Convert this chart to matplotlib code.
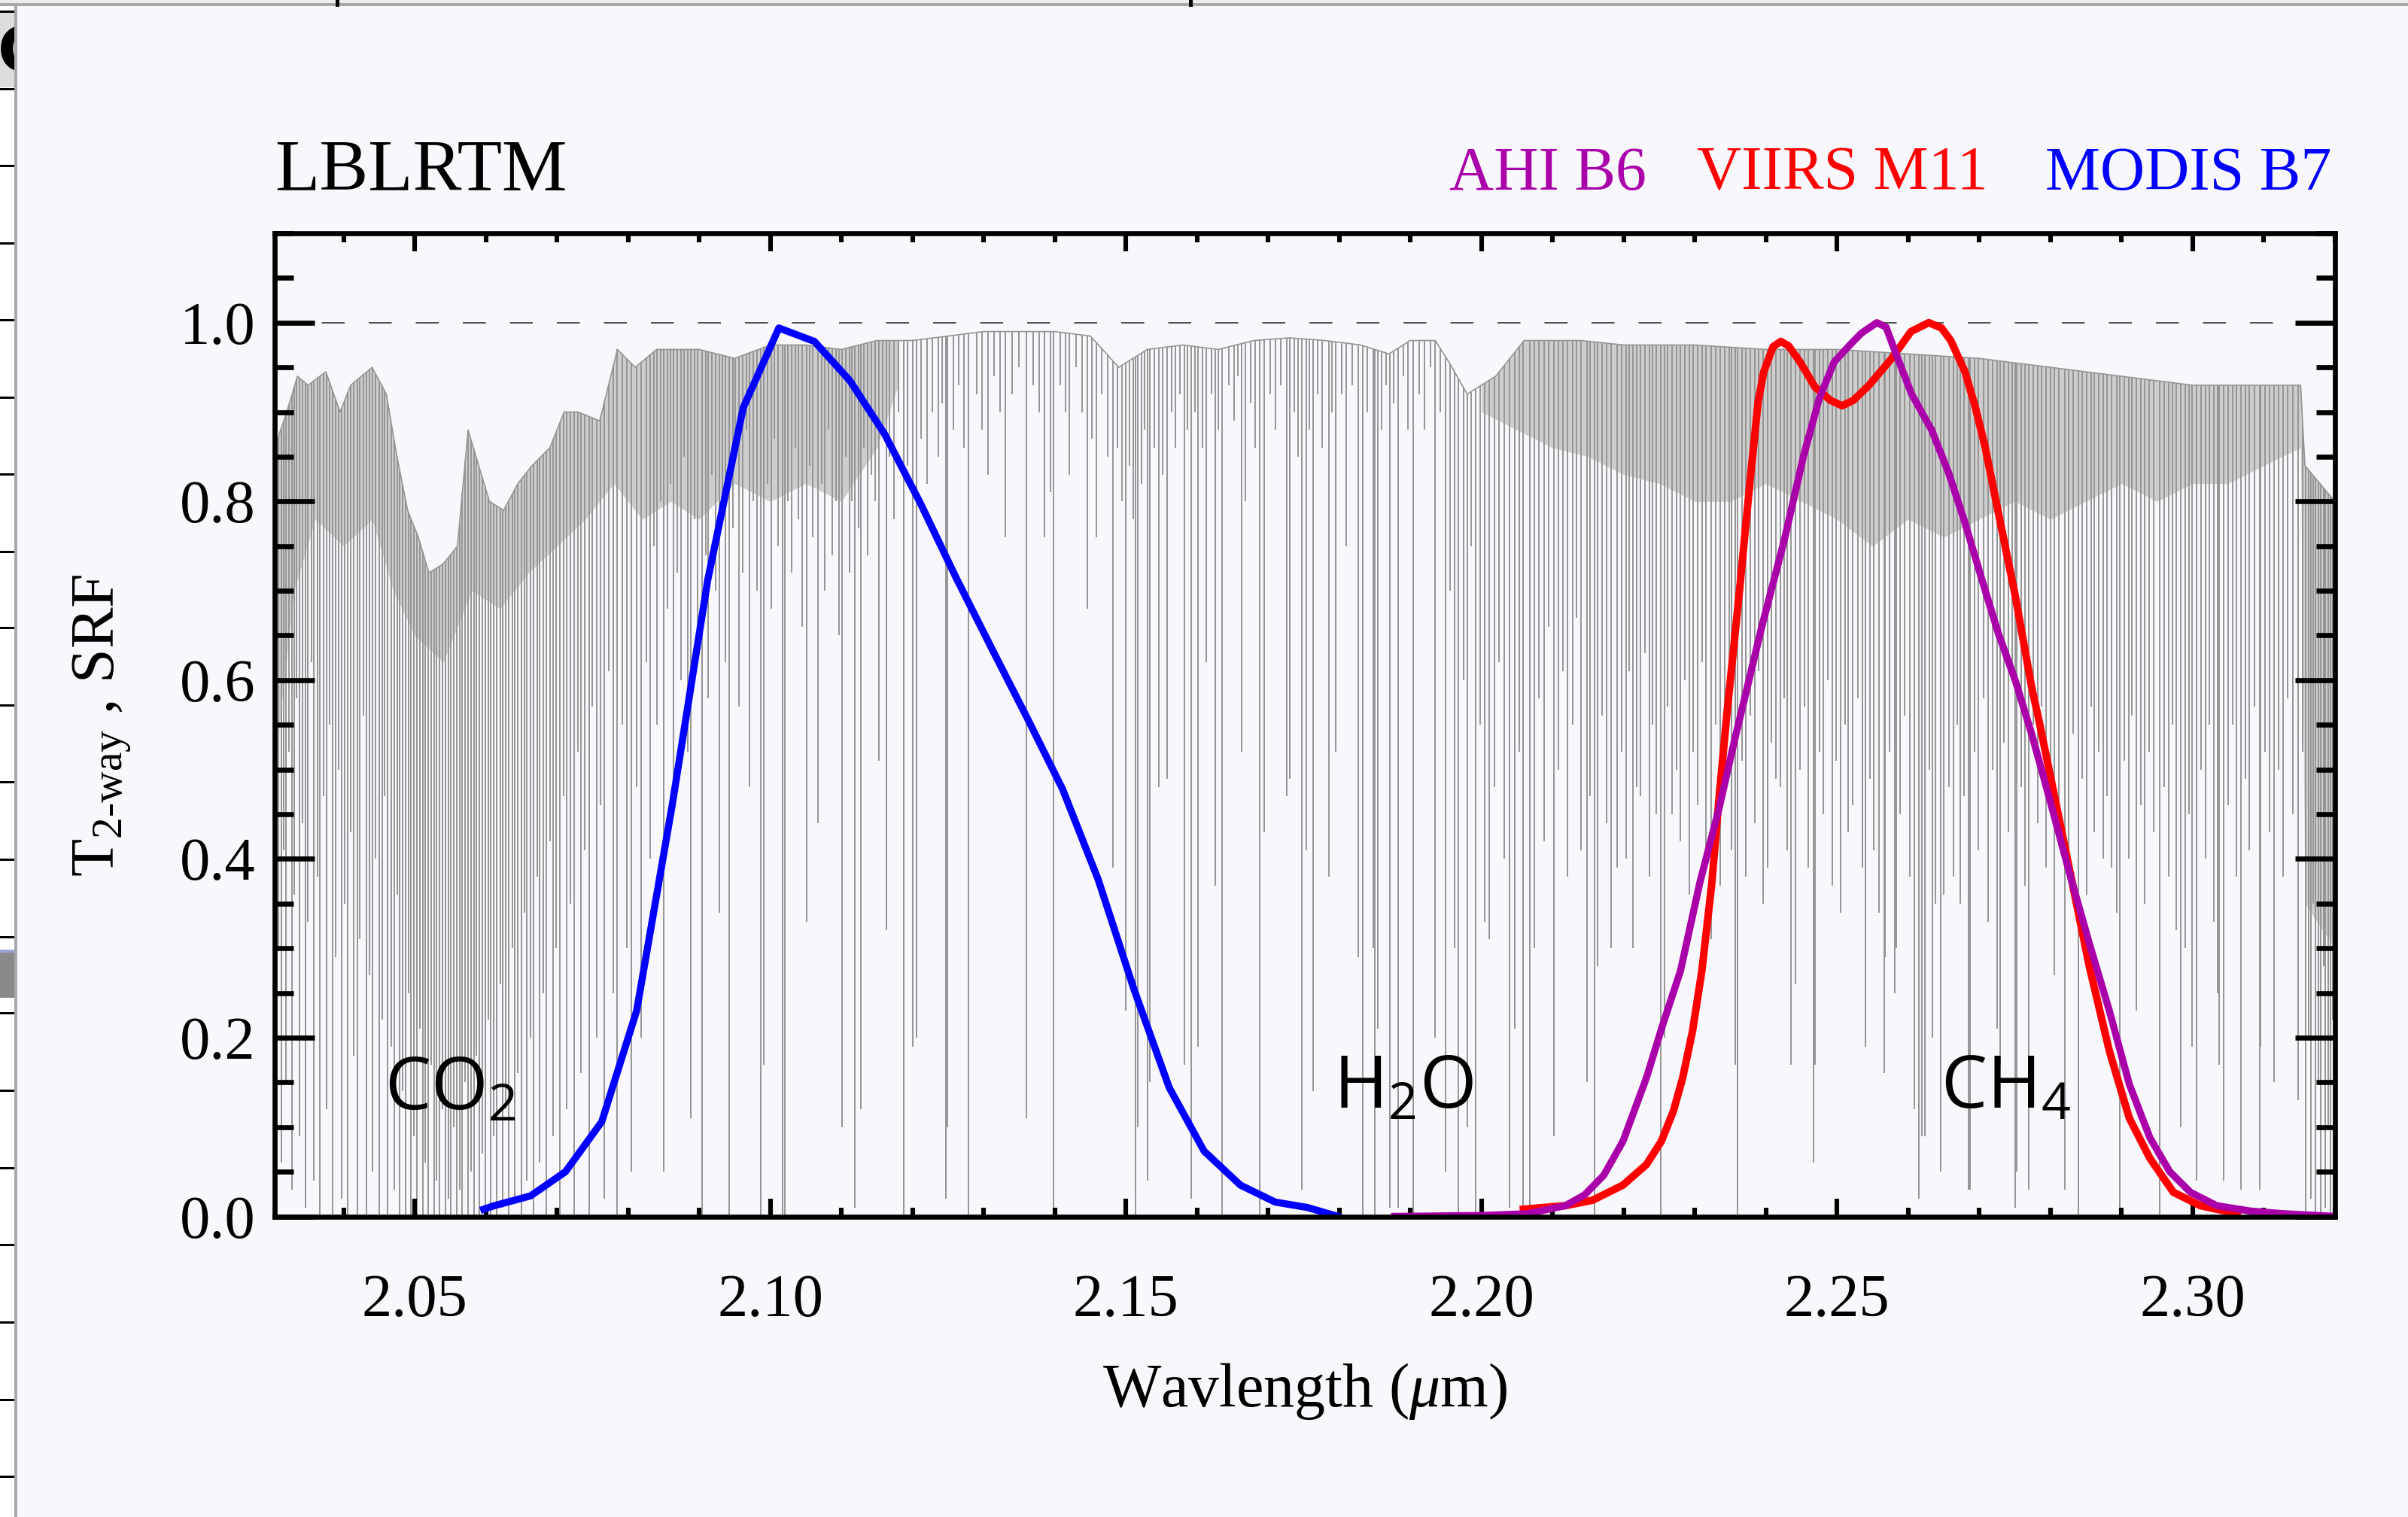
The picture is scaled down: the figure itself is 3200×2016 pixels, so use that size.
import numpy as np
import matplotlib
matplotlib.use("Agg")
import matplotlib.pyplot as plt
from matplotlib.ticker import MultipleLocator, FormatStrFormatter
from matplotlib.patches import Rectangle

# ---------------- data ----------------
# upper envelope (continuum) of the LBLRTM two-way transmission
env_wl = [2.0303, 2.0320, 2.0335, 2.0350, 2.0375, 2.0395, 2.0410, 2.0440, 2.0460, 2.0475,
          2.0490, 2.0505, 2.0520, 2.0540, 2.0560, 2.0575, 2.0590, 2.0605, 2.0625, 2.0645,
          2.0665, 2.0690, 2.0710, 2.0730, 2.0760, 2.0785, 2.0810, 2.0840, 2.0870, 2.0900,
          2.0950, 2.1000, 2.1050, 2.1100, 2.1150, 2.1200, 2.1250, 2.1300, 2.1350, 2.1400,
          2.1450, 2.1490, 2.1530, 2.1580, 2.1630, 2.1680, 2.1730, 2.1780, 2.1830, 2.1870,
          2.1900, 2.1935, 2.1955, 2.1980, 2.2020, 2.2060, 2.2100, 2.2140, 2.2200, 2.2300,
          2.2400, 2.2500, 2.2600, 2.2700, 2.2800, 2.2900, 2.3000, 2.3100, 2.3152, 2.3158,
          2.3200]
env_top = [0.86, 0.90, 0.94, 0.93, 0.945, 0.90, 0.93, 0.95, 0.92, 0.85,
           0.79, 0.76, 0.72, 0.73, 0.75, 0.88, 0.84, 0.80, 0.79, 0.82,
           0.84, 0.86, 0.90, 0.90, 0.89, 0.97, 0.95, 0.97, 0.97, 0.97,
           0.96, 0.975, 0.975, 0.97, 0.98, 0.98, 0.985, 0.99, 0.99, 0.99,
           0.985, 0.95, 0.97, 0.975, 0.97, 0.98, 0.983, 0.98, 0.975, 0.965,
           0.98, 0.98, 0.955, 0.92, 0.94, 0.98, 0.98, 0.98, 0.975, 0.975,
           0.97, 0.97, 0.965, 0.96, 0.95, 0.94, 0.93, 0.93, 0.93, 0.84,
           0.80]

# lower edge of the densely packed (unresolved) line regions
band1_wl = [2.0303, 2.0330, 2.0360, 2.0400, 2.0440, 2.0470, 2.0500, 2.0540, 2.0580, 2.0620,
            2.0660, 2.0700, 2.0740, 2.0780, 2.0820, 2.0860, 2.0900, 2.0950, 2.1000, 2.1050,
            2.1100, 2.1150, 2.1180]
band1_lo = [0.50, 0.70, 0.78, 0.75, 0.78, 0.70, 0.65, 0.62, 0.70, 0.68,
            0.72, 0.75, 0.78, 0.82, 0.78, 0.80, 0.78, 0.82, 0.80, 0.82,
            0.80, 0.86, 0.93]
band2_wl = [2.2000, 2.2050, 2.2100, 2.2150, 2.2200, 2.2250, 2.2300, 2.2350, 2.2400, 2.2450,
            2.2500, 2.2550, 2.2600, 2.2650, 2.2700, 2.2750, 2.2800, 2.2850, 2.2900, 2.2950,
            2.3000, 2.3050, 2.3100, 2.3152, 2.3158, 2.3200]
band2_lo = [0.90, 0.88, 0.86, 0.85, 0.83, 0.82, 0.80, 0.80, 0.82, 0.80,
            0.78, 0.75, 0.78, 0.76, 0.78, 0.80, 0.78, 0.80, 0.82, 0.80,
            0.82, 0.82, 0.84, 0.86, 0.35, 0.30]

# individual absorption lines: centre wavelength and minimum transmission
co2_wl = [2.0305, 2.0308, 2.0312, 2.0316, 2.0319, 2.0323, 2.0327, 2.0331, 2.0334, 2.0338,
          2.0342, 2.0346, 2.0350, 2.0355, 2.0358, 2.0363, 2.0367, 2.0372, 2.0376, 2.0380,
          2.0384, 2.0389, 2.0393, 2.0397, 2.0401, 2.0406, 2.0410, 2.0414, 2.0419, 2.0423,
          2.0428, 2.0432, 2.0436, 2.0441, 2.0445, 2.0450, 2.0454, 2.0458, 2.0462, 2.0467,
          2.0471, 2.0475, 2.0479, 2.0483, 2.0487, 2.0491, 2.0495, 2.0499, 2.0503, 2.0507,
          2.0511, 2.0515, 2.0519, 2.0523, 2.0527, 2.0531, 2.0535, 2.0539, 2.0543, 2.0547,
          2.0551, 2.0555, 2.0559, 2.0563, 2.0567, 2.0571, 2.0575, 2.0579, 2.0583, 2.0587,
          2.0591, 2.0595, 2.0599, 2.0603, 2.0607, 2.0611, 2.0615, 2.0620, 2.0624, 2.0628,
          2.0632, 2.0637, 2.0641, 2.0645, 2.0650, 2.0654, 2.0658, 2.0663, 2.0667, 2.0672,
          2.0676, 2.0681, 2.0685, 2.0690, 2.0695, 2.0699, 2.0704, 2.0709, 2.0714, 2.0719,
          2.0724, 2.0729, 2.0734, 2.0739, 2.0745, 2.0750, 2.0756, 2.0761, 2.0767, 2.0773,
          2.0779, 2.0785, 2.0792, 2.0798, 2.0805, 2.0812, 2.0818]
co2_min = [0.48, 0.30, 0.06, 0.41, 0.15, 0.52, 0.03, 0.36, 0.58, 0.09,
           0.44, 0.01, 0.33, 0.62, 0.04, 0.38, 0.00, 0.47, 0.12, 0.55,
           0.00, 0.29, 0.50, 0.02, 0.35, 0.00, 0.43, 0.18, 0.00, 0.31,
           0.56, 0.00, 0.27, 0.05, 0.40, 0.00, 0.22, 0.47, 0.00, 0.19,
           0.03, 0.36, 0.00, 0.14, 0.00, 0.25, 0.00, 0.09, 0.00, 0.21,
           0.00, 0.06, 0.00, 0.17, 0.00, 0.04, 0.00, 0.12, 0.00, 0.02,
           0.00, 0.10, 0.00, 0.03, 0.00, 0.15, 0.00, 0.05, 0.00, 0.18,
           0.00, 0.07, 0.00, 0.22, 0.00, 0.09, 0.00, 0.26, 0.01, 0.12,
           0.00, 0.30, 0.02, 0.16, 0.00, 0.34, 0.04, 0.20, 0.00, 0.38,
           0.06, 0.25, 0.00, 0.42, 0.09, 0.30, 0.00, 0.47, 0.12, 0.35,
           0.00, 0.52, 0.16, 0.41, 0.00, 0.57, 0.20, 0.46, 0.02, 0.61,
           0.25, 0.00, 0.55, 0.30, 0.05, 0.48, 0.20]

h2o_wl = [2.0826, 2.0831, 2.0836, 2.0841, 2.0846, 2.0850, 2.0855, 2.0860, 2.0864, 2.0869,
          2.0874, 2.0879, 2.0884, 2.0888, 2.0893, 2.0898, 2.0904, 2.0909, 2.0913, 2.0918,
          2.0923, 2.0928, 2.0933, 2.0937, 2.0942, 2.0947, 2.0951, 2.0956, 2.0961, 2.0966,
          2.0971, 2.0976, 2.0981, 2.0987, 2.0991, 2.0996, 2.1001, 2.1006, 2.1011, 2.1017,
          2.1020, 2.1025, 2.1030, 2.1035, 2.1040, 2.1045, 2.1051, 2.1055, 2.1060, 2.1067,
          2.1072, 2.1077, 2.1082, 2.1087, 2.1092, 2.1097, 2.1101, 2.1106, 2.1111, 2.1115,
          2.1119, 2.1124, 2.1127, 2.1132, 2.1137, 2.1142, 2.1147, 2.1153, 2.1158, 2.1163,
          2.1168, 2.1174, 2.1180, 2.1188, 2.1193, 2.1200, 2.1206, 2.1212, 2.1220, 2.1228,
          2.1236, 2.1242, 2.1247, 2.1249, 2.1258, 2.1265, 2.1272, 2.1279, 2.1290, 2.1298,
          2.1306, 2.1315, 2.1323, 2.1330, 2.1340, 2.1350, 2.1360, 2.1370, 2.1378, 2.1386,
          2.1394, 2.1398, 2.1408, 2.1415, 2.1420, 2.1430, 2.1438, 2.1446, 2.1452, 2.1459,
          2.1466, 2.1474, 2.1482, 2.1488, 2.1494, 2.1500, 2.1505, 2.1510, 2.1514, 2.1517,
          2.1522, 2.1526, 2.1530, 2.1534, 2.1540, 2.1546, 2.1552, 2.1558, 2.1564, 2.1570,
          2.1576, 2.1582, 2.1587, 2.1592, 2.1597, 2.1601, 2.1608, 2.1613, 2.1620, 2.1626,
          2.1630, 2.1635, 2.1645, 2.1652, 2.1658, 2.1663, 2.1668, 2.1675, 2.1682, 2.1688,
          2.1695, 2.1703, 2.1710, 2.1718, 2.1726, 2.1731, 2.1737, 2.1742, 2.1747, 2.1754,
          2.1758, 2.1763, 2.1770, 2.1776, 2.1785, 2.1790, 2.1795, 2.1803, 2.1810, 2.1818,
          2.1827, 2.1833, 2.1840, 2.1848, 2.1850, 2.1854, 2.1860, 2.1866, 2.1871, 2.1877,
          2.1883, 2.1890, 2.1897, 2.1904, 2.1912, 2.1920, 2.1928, 2.1935, 2.1942, 2.1950,
          2.1956, 2.1962, 2.1968, 2.1975, 2.1980, 2.1986, 2.1992, 2.1998]
h2o_min = [0.62, 0.40, 0.75, 0.55, 0.80, 0.05, 0.68, 0.82, 0.45, 0.72,
           0.60, 0.85, 0.52, 0.11, 0.78, 0.66, 0.00, 0.74, 0.58, 0.83,
           0.70, 0.34, 0.80, 0.62, 0.00, 0.77, 0.85, 0.57, 0.72, 0.88,
           0.48, 0.80, 0.70, 0.00, 0.17, 0.82, 0.68, 0.87, 0.75, 0.00,
           0.00, 0.80, 0.72, 0.86, 0.78, 0.66, 0.33, 0.84, 0.76, 0.44,
           0.82, 0.70, 0.88, 0.74, 0.80, 0.65, 0.10, 0.85, 0.72, 0.80,
           0.01, 0.77, 0.12, 0.86, 0.74, 0.83, 0.80, 0.51, 0.88, 0.32,
           0.85, 0.78, 0.90, 0.00, 0.84, 0.19, 0.20, 0.87, 0.82, 0.90,
           0.85, 0.91, 0.02, 0.10, 0.88, 0.93, 0.86, 0.00, 0.92, 0.88,
           0.83, 0.94, 0.90, 0.76, 0.92, 0.95, 0.11, 0.93, 0.90, 0.76,
           0.81, 0.00, 0.93, 0.90, 0.83, 0.95, 0.90, 0.68, 0.87, 0.76,
           0.92, 0.85, 0.39, 0.86, 0.80, 0.23, 0.84, 0.78, 0.00, 0.10,
           0.82, 0.88, 0.04, 0.15, 0.86, 0.48, 0.83, 0.49, 0.90, 0.86,
           0.92, 0.17, 0.88, 0.02, 0.90, 0.19, 0.86, 0.62, 0.92, 0.37,
           0.88, 0.00, 0.93, 0.89, 0.94, 0.52, 0.80, 0.91, 0.86, 0.00,
           0.43, 0.92, 0.88, 0.93, 0.47, 0.49, 0.90, 0.85, 0.03, 0.41,
           0.88, 0.14, 0.92, 0.86, 0.38, 0.90, 0.52, 0.92, 0.75, 0.93,
           0.29, 0.00, 0.90, 0.30, 0.00, 0.21, 0.88, 0.93, 0.01, 0.91,
           0.01, 0.94, 0.88, 0.00, 0.92, 0.88, 0.95, 0.20, 0.90, 0.05,
           0.70, 0.30, 0.00, 0.60, 0.10, 0.75, 0.00, 0.55]

ch4_wl = [2.2005, 2.2011, 2.2018, 2.2025, 2.2032, 2.2040, 2.2047, 2.2053, 2.2059, 2.2068,
          2.2074, 2.2081, 2.2088, 2.2095, 2.2102, 2.2108, 2.2115, 2.2121, 2.2128, 2.2134,
          2.2140, 2.2148, 2.2153, 2.2159, 2.2163, 2.2170, 2.2176, 2.2182, 2.2191, 2.2197,
          2.2203, 2.2208, 2.2213, 2.2218, 2.2224, 2.2230, 2.2236, 2.2241, 2.2246, 2.2252,
          2.2257, 2.2262, 2.2268, 2.2274, 2.2280, 2.2286, 2.2292, 2.2298, 2.2304, 2.2310,
          2.2316, 2.2323, 2.2329, 2.2336, 2.2342, 2.2348, 2.2352, 2.2357, 2.2360, 2.2366,
          2.2372, 2.2378, 2.2384, 2.2390, 2.2396, 2.2402, 2.2408, 2.2414, 2.2420, 2.2426,
          2.2430, 2.2435, 2.2442, 2.2448, 2.2454, 2.2460, 2.2467, 2.2469, 2.2475, 2.2481,
          2.2487, 2.2493, 2.2499, 2.2505, 2.2511, 2.2516, 2.2522, 2.2529, 2.2536, 2.2540,
          2.2546, 2.2552, 2.2559, 2.2566, 2.2568, 2.2574, 2.2581, 2.2583, 2.2589, 2.2595,
          2.2602, 2.2609, 2.2615, 2.2619, 2.2624, 2.2630, 2.2634, 2.2638, 2.2646, 2.2650,
          2.2657, 2.2664, 2.2669, 2.2673, 2.2679, 2.2685, 2.2687, 2.2693, 2.2699, 2.2706,
          2.2713, 2.2719, 2.2725, 2.2729, 2.2735, 2.2741, 2.2746, 2.2751, 2.2753, 2.2759,
          2.2764, 2.2770, 2.2776, 2.2782, 2.2788, 2.2794, 2.2800, 2.2806, 2.2812, 2.2820,
          2.2826, 2.2832, 2.2839, 2.2845, 2.2851, 2.2857, 2.2862, 2.2868, 2.2874, 2.2880,
          2.2886, 2.2893, 2.2898, 2.2904, 2.2910, 2.2915, 2.2921, 2.2927, 2.2933, 2.2939,
          2.2945, 2.2954, 2.2960, 2.2966, 2.2972, 2.2977, 2.2983, 2.2990, 2.2995, 2.2999,
          2.3006, 2.3012, 2.3018, 2.3024, 2.3030, 2.3035, 2.3037, 2.3044, 2.3050, 2.3056,
          2.3062, 2.3068, 2.3074, 2.3080, 2.3087, 2.3094, 2.3096, 2.3102, 2.3108, 2.3115,
          2.3121, 2.3127, 2.3134, 2.3141, 2.3148, 2.3155, 2.3159, 2.3163, 2.3166, 2.3170,
          2.3173, 2.3177, 2.3180, 2.3184, 2.3187, 2.3191, 2.3194, 2.3197]
ch4_min = [0.33, 0.31, 0.48, 0.62, 0.40, 0.01, 0.21, 0.52, 0.00, 0.00,
           0.30, 0.58, 0.42, 0.66, 0.09, 0.50, 0.61, 0.38, 0.55, 0.67,
           0.41, 0.15, 0.47, 0.00, 0.28, 0.56, 0.44, 0.30, 0.39, 0.52,
           0.40, 0.61, 0.30, 0.48, 0.47, 0.63, 0.38, 0.55, 0.45, 0.00,
           0.20, 0.57, 0.45, 0.50, 0.42, 0.60, 0.36, 0.52, 0.46, 0.62,
           0.40, 0.31, 0.55, 0.37, 0.47, 0.58, 0.41, 0.17, 0.00, 0.51,
           0.38, 0.56, 0.44, 0.61, 0.35, 0.39, 0.53, 0.49, 0.48, 0.58,
           0.41, 0.17, 0.26, 0.50, 0.57, 0.39, 0.06, 0.17, 0.52, 0.45,
           0.60, 0.37, 0.51, 0.34, 0.55, 0.43, 0.46, 0.58, 0.39, 0.19,
           0.49, 0.41, 0.34, 0.16, 0.29, 0.52, 0.25, 0.30, 0.45, 0.56,
           0.38, 0.12, 0.02, 0.09, 0.09, 0.50, 0.20, 0.35, 0.05, 0.36,
           0.48, 0.38, 0.55, 0.35, 0.47, 0.03, 0.03, 0.52, 0.41, 0.58,
           0.33, 0.50, 0.21, 0.17, 0.53, 0.43, 0.60, 0.01, 0.05, 0.48,
           0.37, 0.03, 0.55, 0.44, 0.57, 0.39, 0.51, 0.27, 0.46, 0.03,
           0.41, 0.54, 0.00, 0.49, 0.36, 0.57, 0.43, 0.52, 0.40, 0.47,
           0.39, 0.34, 0.00, 0.51, 0.40, 0.56, 0.23, 0.46, 0.35, 0.52,
           0.43, 0.00, 0.48, 0.38, 0.55, 0.32, 0.10, 0.30, 0.45, 0.19,
           0.04, 0.50, 0.40, 0.55, 0.33, 0.25, 0.17, 0.04, 0.46, 0.55,
           0.38, 0.03, 0.49, 0.41, 0.57, 0.03, 0.19, 0.52, 0.43, 0.15,
           0.50, 0.38, 0.58, 0.45, 0.13, 0.52, 0.00, 0.20, 0.02, 0.35,
           0.00, 0.15, 0.00, 0.28, 0.01, 0.10, 0.00, 0.22]

# spectral response functions
modis_wl = [2.0597, 2.0612, 2.0663, 2.0712, 2.0763, 2.0812, 2.0862, 2.0912, 2.0962, 2.1012,
            2.1062, 2.1112, 2.1161, 2.1211, 2.1261, 2.1311, 2.1361, 2.1411, 2.1461, 2.1511,
            2.1561, 2.1610, 2.1661, 2.1710, 2.1755, 2.1798]
modis_srf = [0.008, 0.012, 0.023, 0.050, 0.106, 0.230, 0.460, 0.712, 0.905, 0.994,
             0.979, 0.935, 0.875, 0.798, 0.715, 0.636, 0.558, 0.478, 0.377, 0.255,
             0.144, 0.073, 0.035, 0.016, 0.010, 0.000]

viirs_wl = [2.2059, 2.2118, 2.2156, 2.2199, 2.2232, 2.2253, 2.2270, 2.2283, 2.2297, 2.2310,
            2.2324, 2.2334, 2.2345, 2.2362, 2.2378, 2.2389, 2.2397, 2.2410, 2.2421, 2.2432,
            2.2448, 2.2469, 2.2491, 2.2507, 2.2523, 2.2545, 2.2577, 2.2604, 2.2629, 2.2647,
            2.2660, 2.2680, 2.2694, 2.2708, 2.2727, 2.2751, 2.2774, 2.2784, 2.2826, 2.2855,
            2.2883, 2.2911, 2.2940, 2.2973, 2.3011, 2.3063]
viirs_srf = [0.008, 0.012, 0.018, 0.035, 0.058, 0.084, 0.118, 0.155, 0.208, 0.275,
             0.373, 0.467, 0.561, 0.693, 0.825, 0.911, 0.945, 0.973, 0.979, 0.974,
             0.956, 0.928, 0.913, 0.907, 0.913, 0.930, 0.960, 0.990, 1.000, 0.994,
             0.980, 0.945, 0.907, 0.862, 0.787, 0.693, 0.591, 0.555, 0.392, 0.279,
             0.185, 0.110, 0.065, 0.027, 0.012, 0.003]

ahi_wl = [2.1878, 2.2000, 2.2065, 2.2118, 2.2145, 2.2172, 2.2199, 2.2232, 2.2254, 2.2280,
          2.2307, 2.2334, 2.2356, 2.2394, 2.2426, 2.2453, 2.2475, 2.2496, 2.2518, 2.2534,
          2.2556, 2.2569, 2.2583, 2.2605, 2.2633, 2.2657, 2.2680, 2.2704, 2.2727, 2.2751,
          2.2774, 2.2799, 2.2827, 2.2855, 2.2883, 2.2911, 2.2940, 2.2968, 2.2997, 2.3034,
          2.3081, 2.3128, 2.3200]
ahi_srf = [0.000, 0.001, 0.003, 0.012, 0.024, 0.046, 0.084, 0.155, 0.212, 0.275,
           0.373, 0.456, 0.533, 0.659, 0.757, 0.851, 0.915, 0.956, 0.975, 0.988,
           1.000, 0.995, 0.965, 0.920, 0.880, 0.832, 0.776, 0.712, 0.652, 0.599,
           0.539, 0.467, 0.384, 0.305, 0.230, 0.148, 0.088, 0.050, 0.027, 0.012,
           0.006, 0.003, 0.000]

band_names = ["AHI B6", "VIIRS M11", "MODIS B7"]
gas_names = [r"$\mathsf{CO_2}$", r"$\mathsf{H_2O}$", r"$\mathsf{CH_4}$"]
gas_wl = [2.0458, 2.1792, 2.2646]
gas_val = [0.120, 0.121, 0.121]

x_major = [2.05, 2.10, 2.15, 2.20, 2.25, 2.30]

# ---------------- styling ----------------
W, H, DPI = 3200, 2016, 200
BG = "#f8f7fc"
GRAY = "#959595"
C_AHI, C_VIIRS, C_MODIS = "#aa00aa", "#ff0000", "#0000ff"

plt.rcParams["font.family"] = ["Liberation Serif", "DejaVu Serif"]
plt.rcParams["mathtext.fontset"] = "custom"
plt.rcParams["mathtext.rm"] = "Liberation Serif"
plt.rcParams["mathtext.it"] = "Liberation Serif:italic"
plt.rcParams["mathtext.sf"] = "Open Sans"
plt.rcParams["lines.scale_dashes"] = False

fig = plt.figure(figsize=(W / DPI, H / DPI), dpi=DPI, facecolor=BG)
ax = fig.add_axes([365 / W, 1 - 1616.5 / H, 2737.7 / W, 1306.5 / H])
ax.set_facecolor(BG)

# transmission spectrum
env_wl_a = np.array(env_wl)
env_top_a = np.array(env_top)
for bwl, blo in ((band1_wl, band1_lo), (band2_wl, band2_lo)):
    lo_x, hi_x = bwl[0], bwl[-1]
    xs = np.union1d(bwl, env_wl_a[(env_wl_a >= lo_x) & (env_wl_a <= hi_x)])
    ax.fill_between(xs, np.interp(xs, bwl, blo), np.interp(xs, env_wl_a, env_top_a),
                    color="#cdcdcd", lw=0, zorder=1)
ax.plot(env_wl, env_top, color=GRAY, lw=0.6, zorder=1.2)
line_wl = np.concatenate([co2_wl, h2o_wl, ch4_wl])
line_min = np.concatenate([co2_min, h2o_min, ch4_min])
line_top = np.interp(line_wl, env_wl_a, env_top_a)
ax.vlines(line_wl, line_min, line_top, color=GRAY, lw=0.7, zorder=1.3)

# reference line at 1.0
ax.axhline(1.0, color="#333333", lw=0.6, dashes=(11, 11.5), zorder=1.5)

# SRFs
ax.plot(modis_wl, modis_srf, color=C_MODIS, lw=3.4, zorder=3)
ax.plot(viirs_wl, viirs_srf, color=C_VIIRS, lw=3.6, zorder=3.1)
ax.plot(ahi_wl, ahi_srf, color=C_AHI, lw=3.4, zorder=3.2)

# gas labels
for name, gx, gy in zip(gas_names, gas_wl, gas_val):
    ax.text(gx, gy, name, fontsize=35, ha="left", va="baseline", zorder=4)

ax.set_xlim(2.0303, 2.3200)
ax.set_ylim(0.0, 1.1)
ax.xaxis.set_major_locator(plt.FixedLocator(x_major))
ax.xaxis.set_minor_locator(MultipleLocator(0.01))
ax.yaxis.set_major_locator(MultipleLocator(0.2))
ax.yaxis.set_minor_locator(MultipleLocator(0.05))
ax.xaxis.set_major_formatter(FormatStrFormatter("%.2f"))
ax.yaxis.set_major_formatter(FormatStrFormatter("%.1f"))
ax.tick_params(axis="both", which="both", direction="in", top=True, right=True,
               colors="black", labelsize=29)
ax.tick_params(axis="x", which="major", length=8.5, width=2.2, pad=27.5)
ax.tick_params(axis="x", which="minor", length=4.2, width=2.2)
ax.tick_params(axis="y", which="major", length=19, width=2.4, pad=9)
ax.tick_params(axis="y", which="minor", length=9, width=2.4)
for s in ax.spines.values():
    s.set_linewidth(2.4)
    s.set_zorder(5)

ax.set_xlabel(r"Wavlength ($\mu$m)", fontsize=29.5)
ax.xaxis.set_label_coords(0.5, -0.178)
ax.xaxis.label.set_va("center")
ax.set_ylabel(r"T$_{\text{2-way}}$ , SRF", fontsize=29.5)
ax.yaxis.set_label_coords(-0.084, 0.5)
ax.yaxis.label.set_va("center")

# title and colour-coded band legend
ax.text(0.0, 1.0436, "LBLRTM", transform=ax.transAxes, fontsize=35,
        ha="left", va="baseline")
for name, col, xr in zip(band_names, (C_AHI, C_VIIRS, C_MODIS), (0.6659, 0.8314, 0.9983)):
    ax.text(xr, 1.0445, name, transform=ax.transAxes, fontsize=29.5, color=col,
            ha="right", va="baseline")

# ---------------- screenshot frame remnants ----------------
def fig_rect(x0, y0, x1, y1, **kw):
    r = Rectangle((x0 / W, 1 - y1 / H), (x1 - x0) / W, (y1 - y0) / H,
                  transform=fig.transFigure, lw=0, **kw)
    fig.add_artist(r)
    return r

fig_rect(0, 0, W, 4, facecolor="#ececec")
fig_rect(0, 4, W, 8, facecolor="#a8a8a8")
fig_rect(0, 8, 19, H, facecolor="white")
fig_rect(0, 17, 19, 116, facecolor="#dcdcdc")
fig_rect(19, 4, 23, H, facecolor="#a8a8a8")
for yy in [15, 118, 220, 323, 425, 528, 630, 733, 834, 937, 1039, 1142, 1245,
           1346, 1449, 1552, 1654, 1757, 1860, 1962]:
    fig_rect(0, yy - 1.5, 19, yy + 1.5, facecolor="black")
fig_rect(0, 1262, 19, 1266, facecolor="#9aa6d6")
fig_rect(0, 1266, 19, 1326, facecolor="#8a8a8a")
fig_rect(446, 0, 451, 9, facecolor="black")
fig_rect(1580, 0, 1585, 9, facecolor="black")
tC = fig.text(-3 / W, 1 - 95 / H, "C", fontsize=30, fontweight="bold",
              family="DejaVu Sans", ha="left", va="baseline")
tC.set_clip_path(Rectangle((0, 0), 19 / W, 1, transform=fig.transFigure))

fig.savefig("out.png", dpi=DPI, facecolor=BG)
